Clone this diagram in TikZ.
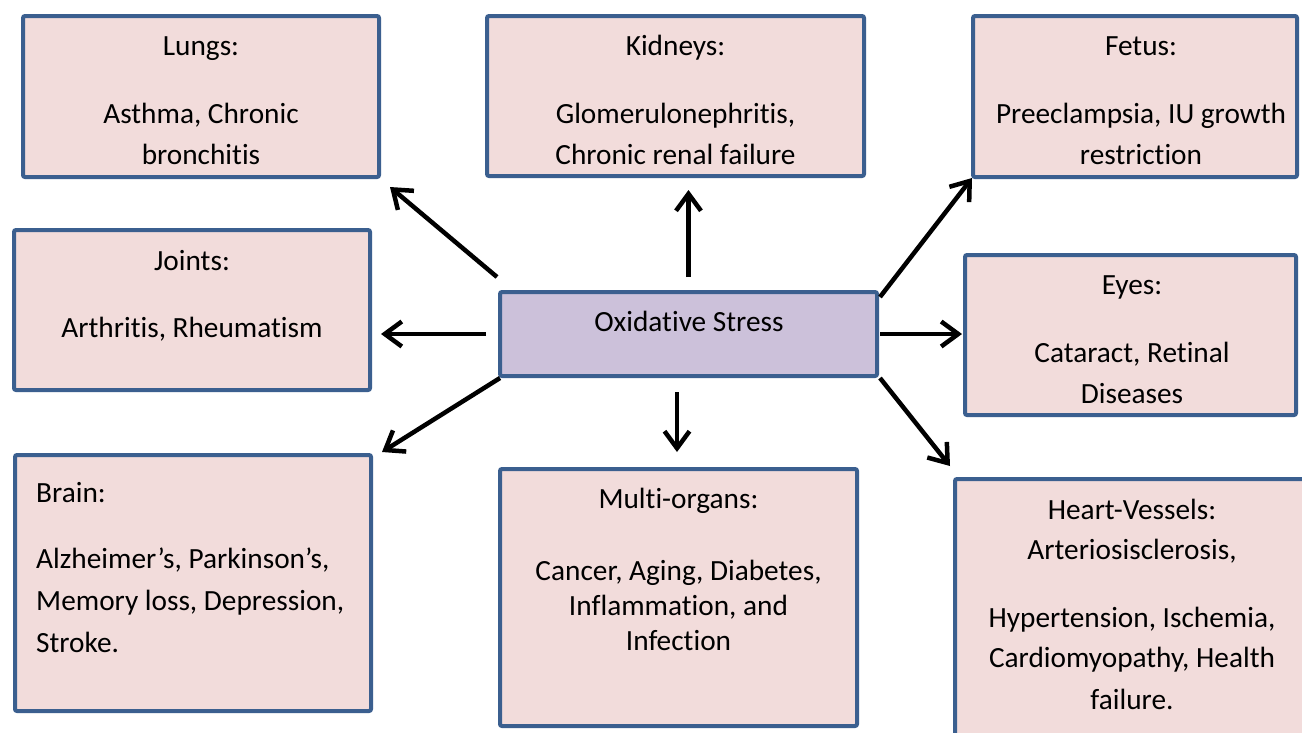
\documentclass[tikz,border=0pt]{standalone}
\usepackage{fontspec}
\setmainfont{Carlito}[Ligatures={NoCommon}]
\usetikzlibrary{arrows.meta,calc}
\definecolor{boxblue}{HTML}{3B5F8F}
\definecolor{pinkfill}{HTML}{F2DCDB}
\definecolor{lilac}{HTML}{CCC1DA}
\newcommand{\tline}[4]{\node[txt] (#1) at (#2,#3) {#4};}
\newcommand{\lline}[4]{\node[txt,anchor=base west] (#1) at (#2,#3) {#4};}
\begin{document}
\begin{tikzpicture}[x=1pt,y=-1pt,
  box/.style={draw=boxblue,line width=4pt,fill=pinkfill,rounded corners=2pt,inner sep=0pt,outer sep=0pt},
  txt/.style={inner sep=0pt,anchor=base,font=\fontsize{29.3}{35}\selectfont},
  arr/.style={line width=4.5pt,-{Straight Barb[length=17pt,width=25pt]}}]
\useasboundingbox (0,0) rectangle (1302,732);
\clip (0,0) rectangle (1302,732);
\fill[white] (0,0) rectangle (1302,732);
% boxes
\node[box,minimum width=356pt,minimum height=161pt] (lungs) at (201,96.5) {};
\node[box,minimum width=377pt,minimum height=160pt] (kidneys) at (675.5,96) {};
\node[box,minimum width=324pt,minimum height=161pt] (fetus) at (1135,96.5) {};
\node[box,minimum width=356pt,minimum height=160pt] (joints) at (192,310) {};
\node[box,fill=lilac,minimum width=377pt,minimum height=84pt] (c) at (688.5,334) {};
\node[box,minimum width=331pt,minimum height=160pt] (eyes) at (1130.5,335) {};
\node[box,minimum width=356pt,minimum height=256pt] (brain) at (193,583) {};
\node[box,minimum width=357pt,minimum height=257pt] (multi) at (678.5,597.5) {};
\node[box,minimum width=354pt,minimum height=322pt] (heart) at (1132,640) {};
% texts
\tline{lungsA}{201}{55}{Lungs:}
\tline{lungsB}{201}{123}{Asthma, Chronic}
\tline{lungsC}{201}{164}{bronchitis}
\tline{kidA}{675.5}{55}{Kidneys:}
\tline{kidB}{675.5}{123}{Glomerulonephritis,}
\tline{kidC}{675.5}{164}{Chronic renal failure}
\tline{fetA}{1141}{55}{Fetus:}
\tline{fetB}{1141}{123}{Preeclampsia, IU growth}
\tline{fetC}{1141}{164}{restriction}
\tline{jointA}{192}{270}{Joints:}
\tline{jointB}{192}{337}{Arthritis, Rheumatism}
\tline{cT}{689}{331}{Oxidative Stress}
\tline{eyeA}{1132}{294}{Eyes:}
\tline{eyeB}{1132}{362}{Cataract, Retinal}
\tline{eyeC}{1132}{403}{Diseases}
\lline{brainA}{36}{502}{Brain:}
\lline{brainB}{36}{568}{Alzheimer’s, Parkinson’s,}
\lline{brainC}{36}{610}{Memory loss, Depression,}
\lline{brainD}{36}{652}{Stroke.}
\tline{multiA}{678.5}{508}{Multi-organs:}
\tline{multiB}{678.5}{580}{Cancer, Aging, Diabetes,}
\tline{multiC}{678.5}{615}{Inflammation, and}
\tline{multiD}{678.5}{650}{Infection}
\tline{heartA}{1132}{519}{Heart-Vessels:}
\tline{heartB}{1132}{559}{Arteriosisclerosis,}
\tline{heartC}{1132}{627}{Hypertension, Ischemia,}
\tline{heartD}{1132}{667}{Cardiomyopathy, Health}
\tline{heartE}{1132}{709}{failure.}
% arrows
\draw[arr] ($(c.north west)+(-3,-15)$) -- ($(lungs.south east)+(11,10)$);
\draw[arr] ($(c.north)+(0,-15)$) -- ($(c.north |- kidneys.south)+(0,14)$);
\draw[arr] ($(c.north east)+(3,5)$) -- ($(fetus.south west)+(-1,1)$);
\draw[arr] ($(c.west)+(-14,0)$) -- ($(c.west -| joints.east)+(11,0)$);
\draw[arr] ($(c.east)+(3,0)$) -- ($(c.east -| eyes.west)+(-3,0)$);
\draw[arr] ($(c.south west)+(0,2)$) -- ($(brain.north east)+(11,-3)$);
\draw[arr] ($(multi.north |- c.south)+(-1.5,16)$) -- ($(multi.north)+(-1.5,-17)$);
\draw[arr] ($(c.south east)+(3,2)$) -- ($(heart.north west)+(-5,-13)$);
\end{tikzpicture}
\end{document}
